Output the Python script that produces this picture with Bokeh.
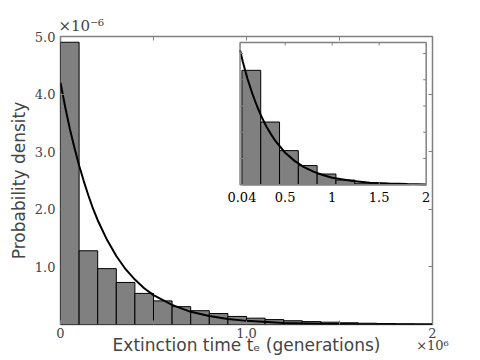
from bokeh.plotting import figure
from bokeh.models import Range1d, FixedTicker, LinearAxis
from bokeh.embed import file_html
from bokeh.resources import INLINE
from bokeh.core.properties import value

# ---------------- data (x in units of 1e6 generations, density in units of 1e-6) -------------
main_bin_edges = [0.0, 0.1, 0.2, 0.3, 0.4, 0.5, 0.6, 0.7, 0.8, 0.9, 1.0,
                  1.1, 1.2, 1.3, 1.4, 1.5, 1.6, 1.7, 1.8, 1.9, 2.0]
main_density = [4.90, 1.28, 0.97, 0.73, 0.54, 0.41, 0.31, 0.24, 0.19, 0.14,
                0.11, 0.085, 0.065, 0.05, 0.04, 0.03, 0.022, 0.016, 0.011, 0.008]

main_curve_t = [0.0, 0.025, 0.05, 0.075, 0.1, 0.125, 0.15, 0.175, 0.2, 0.25, 0.3, 0.35,
                0.4, 0.45, 0.5, 0.6, 0.7, 0.8, 0.9, 1.0, 1.2, 1.4, 1.6, 1.8, 2.0]
main_curve_f = [4.20, 3.78, 3.40, 3.07, 2.76, 2.49, 2.24, 2.01, 1.81, 1.47, 1.19, 0.96,
                0.78, 0.63, 0.51, 0.34, 0.22, 0.146, 0.096, 0.063, 0.027, 0.012, 0.005, 0.002, 0.001]

inset_bin_edges = [0.04, 0.24, 0.44, 0.64, 0.84, 1.04, 1.24, 1.44, 1.64, 1.84]
inset_density = [4.36, 2.39, 1.30, 0.73, 0.41, 0.18, 0.06, 0.025, 0.01]

inset_curve_x = [0.02, 0.05, 0.1, 0.15, 0.2, 0.25, 0.3, 0.35, 0.4, 0.5, 0.6, 0.7, 0.8,
                 0.9, 1.0, 1.2, 1.4, 1.6, 1.8, 2.0]
inset_curve_y = [5.13, 4.68, 4.03, 3.48, 3.00, 2.58, 2.22, 1.92, 1.65, 1.22, 0.91, 0.67, 0.50,
                 0.37, 0.27, 0.15, 0.08, 0.045, 0.025, 0.013]

main_x_ticks = [0.0, 1.0, 2.0]
main_x_labels = ["0", "1.0", "2"]
main_x_minor = [0.5, 1.5]
main_y_ticks = [1, 2, 3, 4, 5]
main_y_labels = ["1.0", "2.0", "3.0", "4.0", "5.0"]

x_multiplier_tick = [2.0]
x_multiplier = ["×10⁶"]
y_multiplier = "×10⁻⁶"

inset_x_ticks = [0.04, 0.5, 1.0, 1.5, 2.0]
inset_x_labels = ["0.04", "0.5", "1", "1.5", "2"]
inset_y_ticks = [1, 2, 3, 4, 5]

x_title = "Extinction time tₑ (generations)"
y_title = "Probability density"

# ---------------- styles / layout constants ----------------
GRAY = "#808080"
SERIF = "DejaVu Serif"
SANS = "DejaVu Sans"
TICK_FS = "13px"

p = figure(frame_width=372, frame_height=288, x_range=Range1d(0, 2), y_range=Range1d(0, 5),
           output_backend="svg", toolbar_location=None,
           min_border_left=60, min_border_right=32, min_border_top=36, min_border_bottom=34)
p.grid.visible = False
p.outline_line_color = GRAY
p.outline_line_width = 1.5
p.background_fill_color = "white"
p.border_fill_color = "white"

p.title.text = y_multiplier
p.title.text_font = SERIF
p.title.text_font_size = "15px"
p.title.text_font_style = "normal"
p.title.align = "left"
p.title.standoff = 4
p.title.offset = -2

p.add_layout(LinearAxis(), "right")
p.add_layout(LinearAxis(), "above")
mult_axis = LinearAxis()
p.add_layout(mult_axis, "below")


def style_axis(ax, ticks, labels, minor, show, standoff):
    ax.ticker = FixedTicker(ticks=ticks, minor_ticks=minor)
    ax.major_label_overrides = {t: l for t, l in zip(ticks, labels)}
    ax.axis_line_color = None
    ax.major_tick_in = 4
    ax.major_tick_out = 0
    ax.minor_tick_in = 4
    ax.minor_tick_out = 0
    ax.major_tick_line_color = GRAY
    ax.minor_tick_line_color = GRAY
    ax.major_tick_line_width = 1
    ax.minor_tick_line_width = 1
    ax.major_label_text_font = SERIF
    ax.major_label_standoff = standoff
    if show:
        ax.major_label_text_font_size = TICK_FS
    else:
        ax.major_label_text_font_size = "1px"
        ax.major_label_text_color = None


style_axis(p.below[0], main_x_ticks, main_x_labels, main_x_minor, True, 3)
style_axis(p.left[0], main_y_ticks, main_y_labels, [], True, 5)
style_axis(p.right[0], main_y_ticks, main_y_labels, [], False, 0)
style_axis(p.above[0], main_x_ticks, main_x_labels, main_x_minor, False, 0)

style_axis(mult_axis, x_multiplier_tick, x_multiplier, [], True, -3)
mult_axis.major_tick_line_color = None
mult_axis.minor_tick_line_color = None
mult_axis.major_tick_in = 0

for ax, text, standoff in ((mult_axis, x_title, -21), (p.left[0], y_title, 3)):
    ax.axis_label = text
    ax.axis_label_text_font = SANS
    ax.axis_label_text_font_size = "17px"
    ax.axis_label_text_font_style = "normal"
    ax.axis_label_standoff = standoff

# main histogram + curve
p.quad(left=main_bin_edges[:-1], right=main_bin_edges[1:], top=main_density, bottom=0,
       fill_color=GRAY, line_color="black", line_width=1)
p.line(main_curve_t, main_curve_f, line_color="black", line_width=2)

# ---------------- inset ----------------
IN_L, IN_R, IN_B, IN_T = 0.9653, 1.9661, 2.426, 4.896
IN_XR = (0.02, 2.0)
IN_YR = (0.0, 5.42)

p.quad(left=IN_L, right=IN_R, bottom=IN_B, top=IN_T, fill_color="white", line_color=None)

inset = p.subplot(x_source=Range1d(*IN_XR), y_source=Range1d(*IN_YR),
                  x_target=Range1d(IN_L, IN_R), y_target=Range1d(IN_B, IN_T))

inset.quad(left=inset_bin_edges[:-1], right=inset_bin_edges[1:], top=inset_density, bottom=0,
           fill_color=GRAY, line_color="black", line_width=1)
inset.line(inset_curve_x, inset_curve_y, line_color="black", line_width=2)

TLX = 0.032   # tick length in inset x units (~3px)
TLY = 0.115   # tick length in inset y units (~3px)
xt_in = inset_x_ticks[1:-1]
inset.segment(x0=xt_in, x1=xt_in, y0=[IN_YR[1]] * len(xt_in), y1=[IN_YR[1] - TLY] * len(xt_in),
              line_color=GRAY, line_width=1)
inset.segment(x0=xt_in, x1=xt_in, y0=[IN_YR[0]] * len(xt_in), y1=[IN_YR[0] + TLY] * len(xt_in),
              line_color=GRAY, line_width=1)
inset.segment(x0=[IN_XR[0]] * len(inset_y_ticks), x1=[IN_XR[0] + TLX] * len(inset_y_ticks),
              y0=inset_y_ticks, y1=inset_y_ticks, line_color=GRAY, line_width=1)
inset.segment(x0=[IN_XR[1]] * len(inset_y_ticks), x1=[IN_XR[1] - TLX] * len(inset_y_ticks),
              y0=inset_y_ticks, y1=inset_y_ticks, line_color=GRAY, line_width=1)
inset.text(x=inset_x_ticks, y=[-0.46] * len(inset_x_ticks), text=inset_x_labels,
           text_align="center", text_baseline="middle",
           text_font=value(SERIF), text_font_size=TICK_FS, text_color="black")

p.quad(left=IN_L, right=IN_R, bottom=IN_B, top=IN_T, fill_color=None,
       line_color=GRAY, line_width=1.5)

open("out.html", "w").write(file_html(p, INLINE))
